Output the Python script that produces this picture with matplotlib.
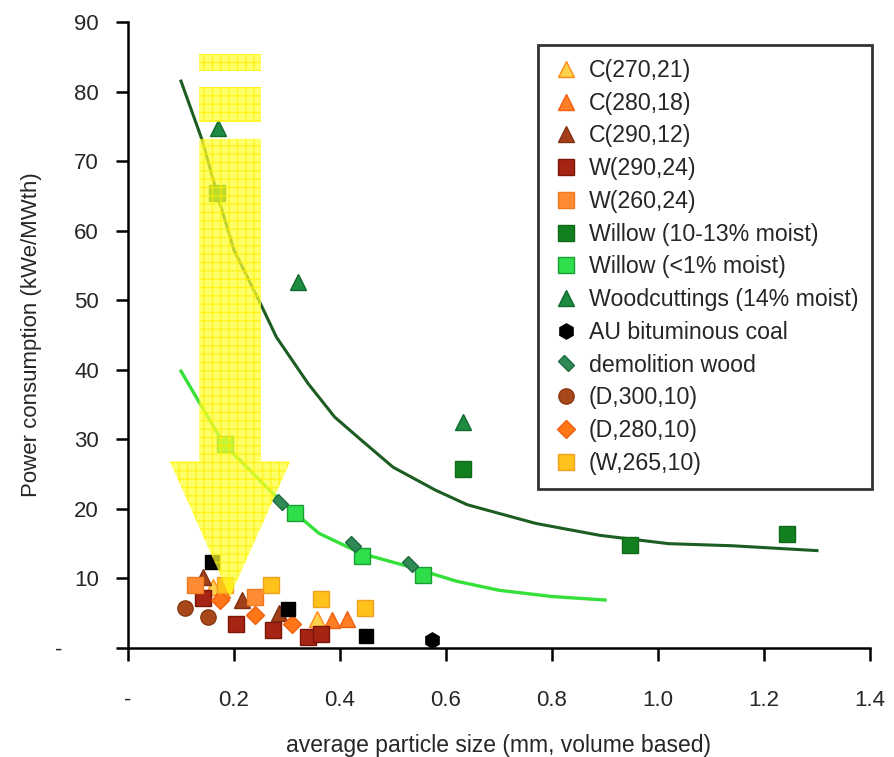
import matplotlib
matplotlib.use("Agg")
import matplotlib.pyplot as plt
from matplotlib.patches import Polygon
from matplotlib.markers import MarkerStyle
from matplotlib.transforms import Affine2D

plt.rcParams['font.family'] = ['Liberation Sans', 'DejaVu Sans']
TEXT = '#262626'

# trend lines
fit_moist_x = [0.10, 0.14, 0.17, 0.20, 0.25, 0.28, 0.34, 0.39, 0.44, 0.50,
               0.58, 0.64, 0.77, 0.89, 1.02, 1.14, 1.30]
fit_moist_y = [81.5, 73.0, 64.8, 57.2, 49.5, 44.7, 38.0, 33.2, 29.9, 26.0,
               22.7, 20.6, 17.9, 16.2, 15.0, 14.7, 14.0]
fit_dry_x = [0.10, 0.18, 0.28, 0.36, 0.44, 0.53, 0.62, 0.70, 0.80, 0.90]
fit_dry_y = [39.8, 29.4, 21.7, 16.5, 13.6, 11.7, 9.6, 8.3, 7.4, 6.9]

# measured points
c270_x, c270_y = [0.356, 0.161], [4.2, 8.8]
c280_x, c280_y = [0.384, 0.413, 0.177], [4.0, 4.2, 8.3]
c290_x, c290_y = [0.142, 0.216, 0.284], [10.2, 6.9, 5.0]
w290_x, w290_y = [0.142, 0.204, 0.274, 0.340, 0.364], [7.2, 3.4, 2.6, 1.6, 2.0]
w260_x, w260_y = [0.240, 0.126], [7.4, 9.1]
willow_moist_x, willow_moist_y = [0.167, 0.632, 0.947, 1.243], [65.4, 25.8, 14.8, 16.4]
willow_dry_x, willow_dry_y = [0.183, 0.315, 0.441, 0.557], [29.4, 19.4, 13.2, 10.5]
woodcut_x, woodcut_y = [0.170, 0.321, 0.633], [74.7, 52.6, 32.5]
coal_x, coal_y = [0.573], [1.2]
coal_sq_x, coal_sq_y = [0.158, 0.302, 0.449], [12.4, 5.6, 1.7]
demol_x, demol_y = [0.287, 0.425, 0.532], [21.0, 15.0, 12.1]
d300_x, d300_y = [0.108, 0.150], [5.7, 4.4]
d280_x, d280_y = [0.174, 0.240, 0.309], [6.9, 4.7, 3.4]
w265_x, w265_y = [0.183, 0.270, 0.364, 0.447], [9.1, 9.1, 7.0, 5.8]

y_ticks = [0, 10, 20, 30, 40, 50, 60, 70, 80, 90]
y_labels = ['-      ', '10', '20', '30', '40', '50', '60', '70', '80', '90']
x_ticks = [0, 0.2, 0.4, 0.6, 0.8, 1.0, 1.2, 1.4]
x_labels = ['-', '0.2', '0.4', '0.6', '0.8', '1.0', '1.2', '1.4']

fig = plt.figure(figsize=(8.94, 7.57), dpi=100)
ax = fig.add_axes([128 / 894, 109 / 757, 742 / 894, 626 / 757])

ax.plot(fit_moist_x, fit_moist_y, color='#1c5e22', lw=2.2, zorder=2)
ax.plot(fit_dry_x, fit_dry_y, color='#35e03a', lw=2.4, zorder=2)

demol_marker = MarkerStyle('s', transform=Affine2D().scale(1.0, 0.55).rotate_deg(-45))

series = [
    (c270_x, c270_y, 'C(270,21)', '^', '#ffd04a', '#ff8c1a', 11),
    (c280_x, c280_y, 'C(280,18)', '^', '#ff7f27', '#f06010', 11),
    (c290_x, c290_y, 'C(290,12)', '^', '#a3401b', '#803010', 11),
    (w290_x, w290_y, 'W(290,24)', 's', '#a52414', '#7a1508', 11),
    (w260_x, w260_y, 'W(260,24)', 's', '#ff8c35', '#f07a20', 11),
    (willow_moist_x, willow_moist_y, 'Willow (10-13% moist)', 's', '#13801f', '#0e6a18', 11),
    (willow_dry_x, willow_dry_y, 'Willow (<1% moist)', 's', '#2ede4a', '#1a9e36', 11),
    (woodcut_x, woodcut_y, 'Woodcuttings (14% moist)', '^', '#1e8a42', '#106a2c', 11),
    (coal_x, coal_y, 'AU bituminous coal', 'h', 'black', 'black', 11),
    (demol_x, demol_y, 'demolition wood', demol_marker, '#2f8a55', '#1f6a40', 11),
    (d300_x, d300_y, '(D,300,10)', 'o', '#a8481a', '#8a3810', 11),
    (d280_x, d280_y, '(D,280,10)', 'D', '#ff7518', '#f06010', 9),
    (w265_x, w265_y, '(W,265,10)', 's', '#ffc21a', '#f0a020', 11),
]
for xs, ys, label, marker, fc, ec, ms in series:
    ax.plot(xs, ys, ls='none', marker=marker, ms=ms, mfc=fc, mec=ec, mew=1,
            label=label, zorder=3, clip_on=False)
ax.plot(coal_sq_x, coal_sq_y, ls='none', marker='s', ms=10, mfc='black',
        mec='black', zorder=3, clip_on=False)

# yellow arrow over the small-particle region
arrow_parts = [
    [(0.1345, 85.4), (0.251, 85.4), (0.251, 82.9), (0.1345, 82.9)],
    [(0.1345, 80.6), (0.251, 80.6), (0.251, 75.6), (0.1345, 75.6)],
    [(0.1345, 73.2), (0.251, 73.2), (0.251, 26.8), (0.306, 26.8),
     (0.1925, 7.4), (0.079, 26.8), (0.1345, 26.8)],
]
for pts in arrow_parts:
    ax.add_patch(Polygon(pts, closed=True, facecolor='#ffff30', edgecolor='#ffee00',
                         lw=0, hatch='++', alpha=0.72, zorder=4))

ax.set_xlim(0, 1.4)
ax.set_ylim(0, 90)
ax.set_xticks(x_ticks)
ax.set_xticklabels(x_labels)
ax.set_yticks(y_ticks)
ax.set_yticklabels(y_labels)
for side in ['top', 'right']:
    ax.spines[side].set_visible(False)
for side in ['left', 'bottom']:
    ax.spines[side].set_linewidth(1.8)
ax.tick_params(axis='both', direction='out', length=9, width=1.8,
               labelsize=16, labelcolor=TEXT)
ax.tick_params(axis='x', pad=21)
ax.tick_params(axis='y', pad=12)

ax.set_xlabel('average particle size (mm, volume based)', fontsize=16.5,
              color=TEXT, labelpad=17)
ax.set_ylabel('Power consumption (kWe/MWth)', fontsize=16, color=TEXT,
              labelpad=9)

leg = ax.legend(loc='upper left', bbox_to_anchor=(538 / 894, 1 - 45 / 757),
                bbox_transform=fig.transFigure, fontsize=16.7, frameon=True,
                fancybox=False, handlelength=1.2, handletextpad=0.4,
                labelspacing=0.42, borderpad=0.6, borderaxespad=0)
leg.get_frame().set_edgecolor('black')
leg.get_frame().set_linewidth(2)
for t in leg.get_texts():
    t.set_color(TEXT)

fig.savefig('out.png', dpi=100)
